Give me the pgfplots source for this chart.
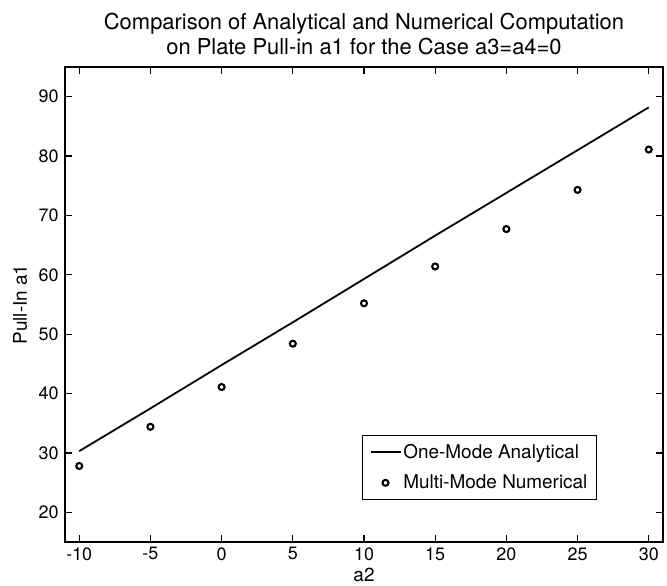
\documentclass[border=0pt]{standalone}
\usepackage{fontspec}
\setmainfont{TeX Gyre Heros}
\usepackage{pgfplots}
\pgfplotsset{compat=1.18}
\pgfplotsset{
  lineleg/.style={legend image code/.code={\draw[##1, line width=1.8bp] (0bp,0bp) -- (30bp,0bp);}},
  markleg/.style={legend image code/.code={\draw[##1, mark repeat=2, mark phase=2] plot coordinates {(0bp,0bp) (15bp,0bp) (30bp,0bp)};}},
}
\begin{document}
\begin{tikzpicture}
\begin{axis}[
  scale only axis,
  width=598bp, height=475bp,
  xmin=-11, xmax=31, ymin=15, ymax=95,
  xtick={-10,-5,0,5,10,15,20,25,30},
  ytick={20,30,40,50,60,70,80,90},
  tick align=inside,
  major tick length=7bp,
  axis line style={line width=1.6bp},
  every tick/.style={line width=1.3bp, black},
  /pgf/number format/assume math mode=true,
  tick label style={font=\fontsize{18}{22}\selectfont},
  xticklabel style={yshift=-2bp},
  yticklabel style={xshift=-3bp},
  title style={align=center, font=\fontsize{22}{25}\selectfont, yshift=3bp},
  title={Comparison of Analytical and Numerical Computation\\on Plate Pull-in a1 for the Case a3=a4=0},
  xlabel={a2}, ylabel={Pull-In a1},
  label style={font=\fontsize{19}{23}\selectfont},
  xlabel style={yshift=-1bp},
  ylabel style={at={(axis description cs:0,0.5)}, anchor=center, yshift=45bp},
  legend style={at={(0.8896,0.0884)}, anchor=south east, draw=black, line width=1.1bp,
    font=\fontsize{19}{23}\selectfont, row sep=11bp, inner xsep=7bp, inner ysep=7bp},
  legend cell align=left,
]
\addplot[black, line width=1.8bp, lineleg] coordinates {
(-10,30.3) (-5,37.5) (0,44.8) (5,52.0) (10,59.3) (15,66.6) (20,73.8) (25,81.0) (30,88.2)
};
\addlegendentry{One-Mode Analytical}
\addplot[only marks, mark=o, mark size=3bp, mark options={line width=2.1bp}, black, markleg] coordinates {
(-10,27.8) (-5,34.4) (0,41.1) (5,48.4) (10,55.2) (15,61.4) (20,67.7) (25,74.3) (30,81.1)
};
\addlegendentry{Multi-Mode Numerical}
\end{axis}
\path ([xshift=4bp]current axis.east) ([xshift=-65bp]current axis.west)
      ([yshift=67bp]current axis.north) ([yshift=-43bp]current axis.south);
\end{tikzpicture}
\end{document}
